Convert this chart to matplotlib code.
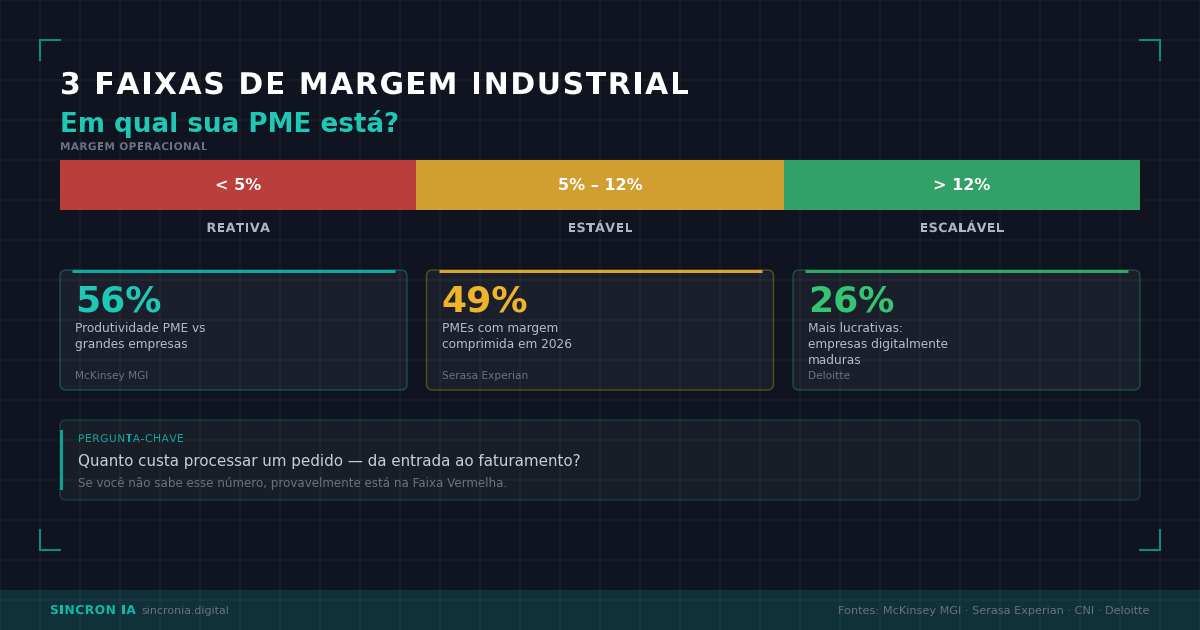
import numpy as np
import matplotlib
matplotlib.use("Agg")
import matplotlib.pyplot as plt
from matplotlib.patches import FancyBboxPatch, Rectangle, PathPatch
from matplotlib.font_manager import FontProperties, findfont, get_font
from matplotlib.textpath import TextPath
from matplotlib.transforms import Affine2D, blended_transform_factory
try:
    from matplotlib.ft2font import LoadFlags
    NO_SCALE = LoadFlags.NO_SCALE
except ImportError:
    NO_SCALE = 1

plt.rcParams['font.family'] = ['DejaVu Sans']

# data
band_labels = ["< 5%", "5% – 12%", "> 12%"]
band_widths = [33, 34, 33]
band_names = ["REATIVA", "ESTÁVEL", "ESCALÁVEL"]
band_colors = ["#b93e3c", "#d19f31", "#33a067"]

stat_values = ["56%", "49%", "26%"]
stat_labels = [
    "Produtividade PME vs\ngrandes empresas",
    "PMEs com margem\ncomprimida em 2026",
    "Mais lucrativas:\nempresas digitalmente\nmaduras",
]
stat_sources = ["McKinsey MGI", "Serasa Experian", "Deloitte"]
stat_colors = ["#1ec8b4", "#f0b429", "#34c472"]
accent_colors = ["#12aaa0", "#d9a532", "#2fa866"]

BG = "#0f1420"
TEAL = "#14b8a6"
W, H = 1200, 630

fig = plt.figure(figsize=(W / 100, H / 100), dpi=100, facecolor=BG)
ax = fig.add_axes([0, 0, 1, 1])
ax.set_xlim(0, W)
ax.set_ylim(H, 0)
ax.axis('off')
ax.set_facecolor(BG)


def spaced_text(x, y, s, spacing, ha='left', transform=None, color='white',
                fontsize=10, fontweight='normal'):
    """Draw text with extra letter spacing (pixels) as glyph outlines."""
    prop = FontProperties(family='DejaVu Sans', size=fontsize, weight=fontweight)
    font = get_font(findfont(prop))
    px = fontsize * 100 / 72
    adv = [font.load_char(ord(c), flags=NO_SCALE).horiAdvance * px / font.units_per_EM
           for c in s]
    total = sum(adv) + spacing * (len(s) - 1)
    if transform is not None:
        x = ax.transData.inverted().transform(transform.transform((x, 0)))[0]
    pen = x - total / 2 if ha == 'center' else x
    for c, a in zip(s, adv):
        if c != ' ':
            path = TextPath((0, 0), c, size=px, prop=prop)
            t = Affine2D().scale(1, -1).translate(pen, y) + ax.transData
            ax.add_patch(PathPatch(path, transform=t, facecolor=color,
                                   edgecolor='none', zorder=3))
        pen += a + spacing


# footer band
ax.add_patch(Rectangle((0, 590), W, 40, facecolor="#10303a", edgecolor='none', zorder=0.5))

# background grid
for gx in range(0, W + 1, 40):
    ax.plot([gx, gx], [0, H], color='white', alpha=0.045, lw=1.1, zorder=1)
for gy in range(0, H + 1, 40):
    ax.plot([0, W], [gy, gy], color='white', alpha=0.045, lw=1.1, zorder=1)

# corner brackets
bc = "#0f8a80"
L = 20
for cx, cy, dx, dy in [(40, 40, 1, 1), (1160, 40, -1, 1), (40, 550, 1, -1), (1160, 550, -1, -1)]:
    ax.plot([cx + dx * L, cx, cx], [cy, cy, cy + dy * L], color=bc, lw=1.5,
            solid_joinstyle='miter', zorder=2)

# titles
spaced_text(60, 94, "3 FAIXAS DE MARGEM INDUSTRIAL", 1.62, color='white', fontsize=21.5,
            fontweight='bold')
ax.text(60, 132, "Em qual sua PME está?", color=stat_colors[0], fontsize=18.8,
        fontweight='bold', va='baseline', zorder=3)
spaced_text(60, 150, "MARGEM OPERACIONAL", 0.35, color="#6b7280", fontsize=7.6,
            fontweight='bold')

# margin bar
ax_bar = fig.add_axes([60 / W, 1 - 210 / H, 1080 / W, 50 / H])
ax_bar.set_xlim(0, sum(band_widths))
ax_bar.set_ylim(-0.5, 0.5)
ax_bar.axis('off')
ax_bar.patch.set_alpha(0)
lefts = np.concatenate([[0], np.cumsum(band_widths)[:-1]])
ax_bar.barh(0, band_widths, left=lefts, height=1, color=band_colors, edgecolor='none')
for left, w, lab in zip(lefts, band_widths, band_labels):
    ax_bar.text(left + w / 2, 0, lab, color='white', fontsize=11.5, fontweight='bold',
                ha='center', va='center')

tr = blended_transform_factory(ax_bar.transData, ax.transData)
for left, w, name in zip(lefts, band_widths, band_names):
    spaced_text(left + w / 2, 232, name, 0.3, ha='center', transform=tr,
                color="#b0b5c0", fontsize=9.2, fontweight='bold')

# stat cards
card_x = [60, 426.5, 793]
card_w = 347
for x0, val, lab, src, col, acc in zip(card_x, stat_values, stat_labels, stat_sources,
                                       stat_colors, accent_colors):
    ax.add_patch(FancyBboxPatch((x0, 270), card_w, 120, boxstyle="round,pad=0,rounding_size=6",
                                facecolor=(1, 1, 1, 0.05),
                                edgecolor=matplotlib.colors.to_rgba(col, 0.32),
                                linewidth=1, zorder=2))
    ax.plot([x0 + 12, x0 + card_w - 12], [271, 271], color=acc, lw=2.2,
            solid_capstyle='butt', zorder=3)
    ax.text(x0 + 15, 312, val, color=col, fontsize=26, fontweight='bold',
            va='baseline', zorder=3)
    for i, line in enumerate(lab.split("\n")):
        ax.text(x0 + 15, 332 + 16 * i, line, color="#b8bcc8", fontsize=8.7,
                va='baseline', zorder=3)
    ax.text(x0 + 15, 379, src, color="#6b7280", fontsize=7.6, va='baseline', zorder=3)

# key question box
ax.add_patch(FancyBboxPatch((60, 420), 1080, 80, boxstyle="round,pad=0,rounding_size=6",
                            facecolor=(1, 1, 1, 0.04),
                            edgecolor=matplotlib.colors.to_rgba(TEAL, 0.25),
                            linewidth=1, zorder=2))
ax.add_patch(Rectangle((60, 430), 3, 60, facecolor="#0fa396", edgecolor='none', zorder=3))
spaced_text(78, 442, "PERGUNTA-CHAVE", 0.6, color="#10a89a", fontsize=7.6)
ax.text(78, 466, "Quanto custa processar um pedido — da entrada ao faturamento?",
        color="#c8ccd6", fontsize=10.9, va='baseline', zorder=3)
ax.text(78, 487, "Se você não sabe esse número, provavelmente está na Faixa Vermelha.",
        color="#6b7280", fontsize=8.6, va='baseline', zorder=3)

# footer
spaced_text(50, 614, "SINCRON IA", 0.55, color=TEAL, fontsize=8.8, fontweight='bold')
ax.text(141, 614, "sincronia.digital", color="#6b7280", fontsize=7.9, va='baseline', zorder=3)
ax.text(1150, 614, "Fontes: McKinsey MGI · Serasa Experian · CNI · Deloitte", color="#6b7280",
        fontsize=8.1, ha='right', va='baseline', zorder=3)

fig.savefig("out.png", dpi=100, facecolor=BG)
